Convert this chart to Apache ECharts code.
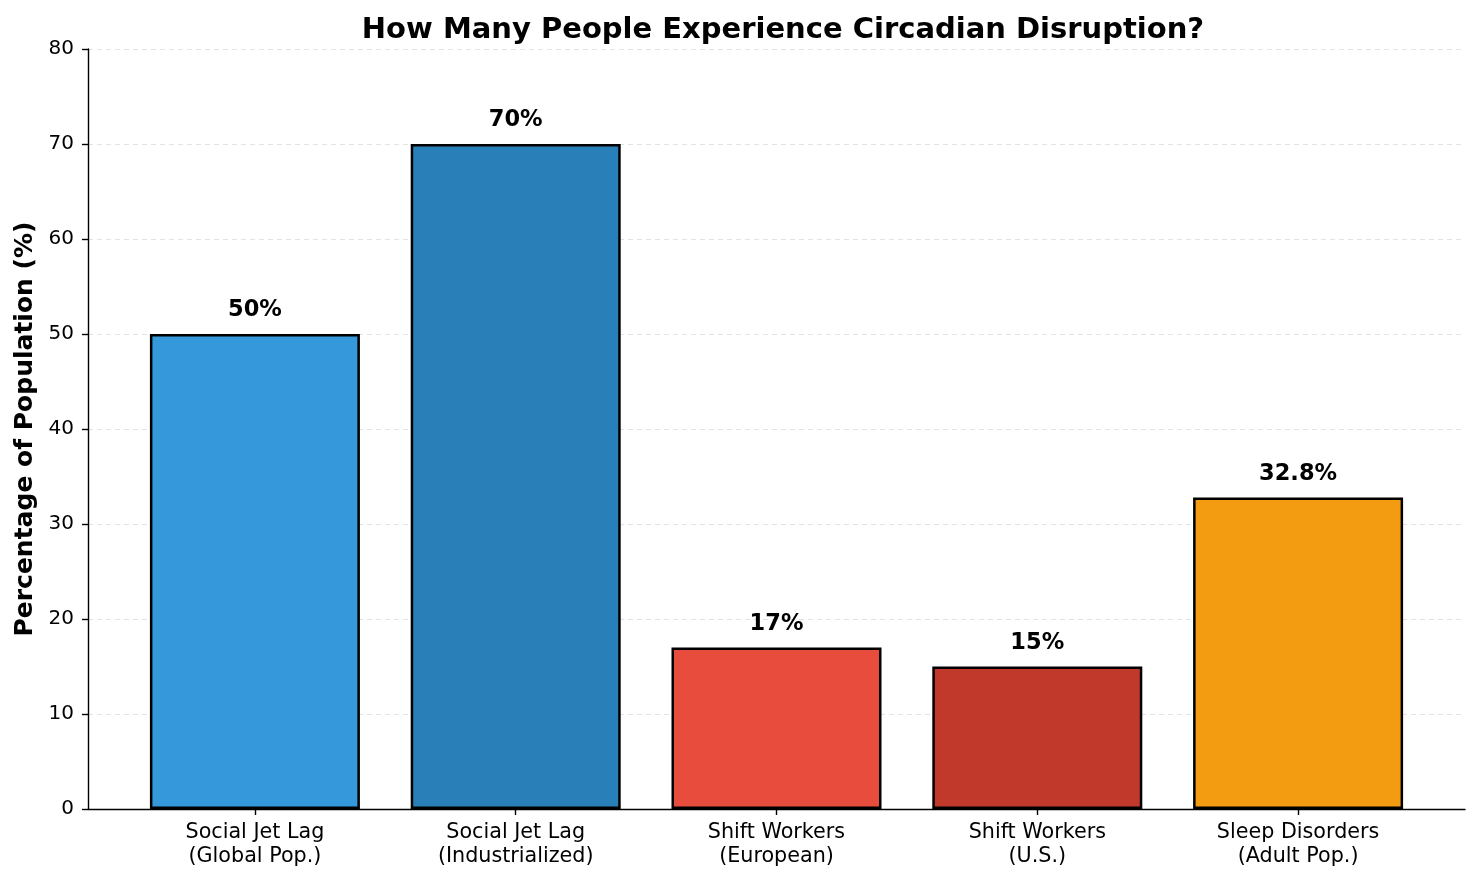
<!DOCTYPE html>
<html lang="en">
<head>
    <meta charset="UTF-8">
    <script src="https://cdn.jsdelivr.net/npm/echarts@6/dist/echarts.min.js"></script>
    <title>Circadian Disruption</title>
    <style>
        html, body { margin: 0; padding: 0; background: #fff; }
        #chart { width: 1482px; height: 882px; }
    </style>
</head>
<body>
    <div id="chart"></div>
    <script>
        var categories = ['Social Jet Lag\n(Global Pop.)', 'Social Jet Lag\n(Industrialized)', 'Shift Workers\n(European)', 'Shift Workers\n(U.S.)', 'Sleep Disorders\n(Adult Pop.)'];
        var percentages = [50, 70, 17, 15, 32.8];
        var barColors = ['#3498db', '#2980b9', '#e74c3c', '#c0392b', '#f39c12'];
        var yTicks = [0, 10, 20, 30, 40, 50, 60, 70, 80];

        var font = 'DejaVu Sans';
        var positions = categories.map(function (c, i) { return i; });

        var chart = echarts.init(document.getElementById('chart'));
        var option = {
            animation: false,
            textStyle: { fontFamily: font },
            title: {
                text: 'How Many People Experience Circadian Disruption?',
                left: 778,
                textAlign: 'center',
                top: 11,
                textStyle: { fontSize: 29, fontWeight: 'bold', color: '#000', fontFamily: font }
            },
            grid: { left: 88, right: 17, top: 49, bottom: 73 },
            xAxis: {
                type: 'value',
                min: -0.64,
                max: 4.64,
                splitLine: { show: false },
                axisLine: { show: true, onZero: false, lineStyle: { color: '#000', width: 1.4 } },
                axisTick: { show: true, length: 6, customValues: positions, lineStyle: { color: '#000', width: 1.4 } },
                axisLabel: {
                    customValues: positions,
                    margin: 12,
                    fontSize: 20.7,
                    lineHeight: 23.5,
                    color: '#000',
                    fontFamily: font,
                    formatter: function (v) { return categories[Math.round(v)]; }
                }
            },
            yAxis: {
                type: 'value',
                min: yTicks[0],
                max: yTicks[yTicks.length - 1],
                interval: 10,
                name: 'Percentage of Population (%)',
                nameLocation: 'middle',
                nameGap: 50,
                nameTextStyle: { fontSize: 25, fontWeight: 'bold', color: '#000', fontFamily: font },
                axisLine: { show: true, onZero: false, lineStyle: { color: '#000', width: 1.4 } },
                axisTick: { show: true, length: 6, lineStyle: { color: '#000', width: 1.4 } },
                axisLabel: { fontSize: 20, color: '#000', margin: 14, fontFamily: font },
                splitLine: { show: true, lineStyle: { color: '#e3e3e3', type: [5, 4], width: 1 } }
            },
            series: [{
                type: 'bar',
                barWidth: 210,
                data: percentages.map(function (v, i) {
                    return {
                        value: [i, v],
                        itemStyle: { color: barColors[i], borderColor: '#000', borderWidth: 2.5 }
                    };
                }),
                label: {
                    show: true,
                    position: 'top',
                    distance: 12,
                    fontSize: 22.5,
                    fontWeight: 'bold',
                    color: '#000',
                    fontFamily: font,
                    formatter: function (p) { return p.value[1] + '%'; }
                }
            }]
        };
        chart.setOption(option);
    </script>
</body>
</html>
